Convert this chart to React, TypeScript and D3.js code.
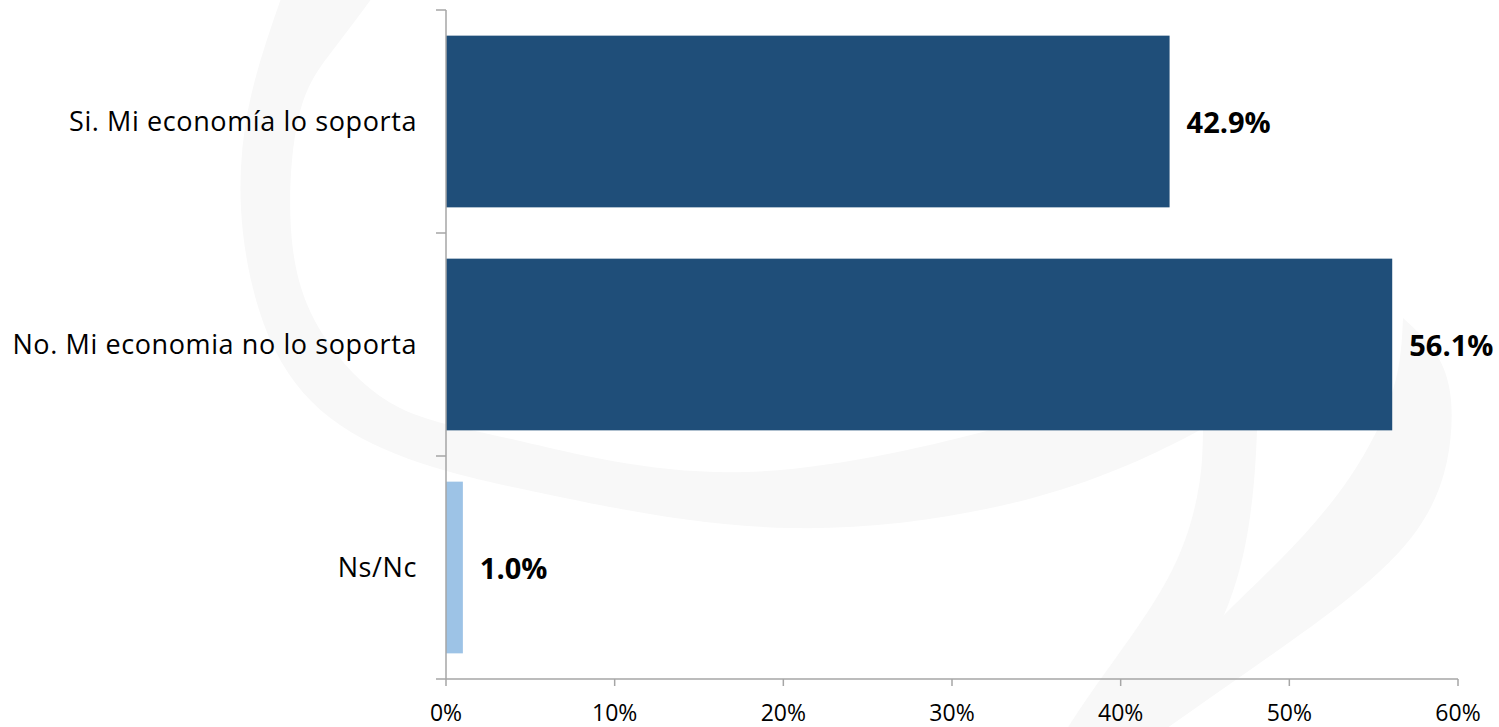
import React from "react";
import * as d3 from "d3";

const categories = ["Si. Mi economía lo soporta", "No. Mi economia no lo soporta", "Ns/Nc"];
const values = [42.9, 56.1, 1.0];
const barColors = ["#1F4E79", "#1F4E79", "#9DC3E6"];
const xTicks = [0, 10, 20, 30, 40, 50, 60];

const W = 1499;
const H = 727;
const left = 446;
const right = 1458;
const top = 10;
const bottom = 679;
const FONT = "'Open Sans', Lato, sans-serif";

type P = [number, number];
const crescentOuter: P[] = [[284, -10], [248, 110], [243, 233], [275, 350], [340, 425], [433, 467], [560, 497], [790, 528], [1036, 497], [1200, 430], [1300, 370]];
const crescentInner: P[] = [[1300, 370], [1100, 405], [991, 430], [745, 472], [520, 441], [400, 408], [330, 345], [293, 250], [298, 120], [333, 50], [378, -10]];
const strokeLeft: P[] = [[1203, 300], [1203, 430], [1197, 497], [1167, 580], [1100, 680], [1060, 740]];
const strokeRight: P[] = [[1160, 740], [1195, 675], [1228, 605], [1248, 530], [1257, 430], [1257, 300]];
const swooshOuter: P[] = [[1150, 740], [1250, 670], [1350, 597], [1417, 530], [1447, 461], [1450, 392], [1432, 348], [1403, 318]];
const swooshInner: P[] = [[1403, 318], [1393, 390], [1350, 477], [1280, 560], [1210, 630], [1165, 690], [1125, 740]];

function shape(a: P[], b: P[]): string {
  const line = d3.line<P>().curve(d3.curveNatural);
  const s1 = line(a) || "";
  const s2 = (line(b) || "").replace(/^M/, "L");
  return s1 + s2 + "Z";
}

export default function App() {
  const x = d3.scaleLinear().domain([0, 60]).range([left, right]);
  const y = d3.scaleBand<string>().domain(categories).range([top, bottom]).paddingInner(0.23).paddingOuter(0.115);
  const yBand = d3.scaleBand<string>().domain(categories).range([top, bottom]);
  const bounds = [top, ...categories.map((c) => (yBand(c) as number) + yBand.bandwidth())];

  return (
    <svg width={W} height={H} style={{ position: "absolute", left: 0, top: 0, background: "#fff" }}>
      <g fill="#f8f8f8">
        <path d={shape(crescentOuter, crescentInner)} />
        <path d={shape(strokeLeft, strokeRight)} />
        <path d={shape(swooshOuter, swooshInner)} />
      </g>
      {categories.map((c, i) => (
        <rect key={c} x={x(0)} y={y(c)} width={x(values[i]) - x(0)} height={y.bandwidth()} fill={barColors[i]} />
      ))}
      <g stroke="#A6A6A6" strokeWidth={1.5} fill="none">
        <line x1={left} x2={left} y1={top} y2={bottom} />
        <line x1={left} x2={right} y1={bottom} y2={bottom} />
        {bounds.map((b, i) => (
          <line key={"yt" + i} x1={left - 10} x2={left} y1={b} y2={b} />
        ))}
        {xTicks.map((t) => (
          <line key={"xt" + t} x1={x(t)} x2={x(t)} y1={bottom} y2={bottom + 7} />
        ))}
      </g>
      {categories.map((c) => (
        <text key={"l" + c} x={417} y={(y(c) as number) + y.bandwidth() / 2} dy="0.35em" textAnchor="end" fontFamily={FONT} fontSize={27} letterSpacing={0.6} fill="#000">
          {c}
        </text>
      ))}
      {categories.map((c, i) => (
        <text key={"v" + c} x={x(values[i]) + 17} y={(y(c) as number) + y.bandwidth() / 2} dy="0.4em" fontFamily={FONT} fontSize={29} fontWeight="bold" fill="#000">
          {values[i].toFixed(1) + "%"}
        </text>
      ))}
      {xTicks.map((t) => (
        <text key={"xl" + t} x={x(t)} y={721} textAnchor="middle" fontFamily={FONT} fontSize={23} fill="#000">
          {t + "%"}
        </text>
      ))}
    </svg>
  );
}
